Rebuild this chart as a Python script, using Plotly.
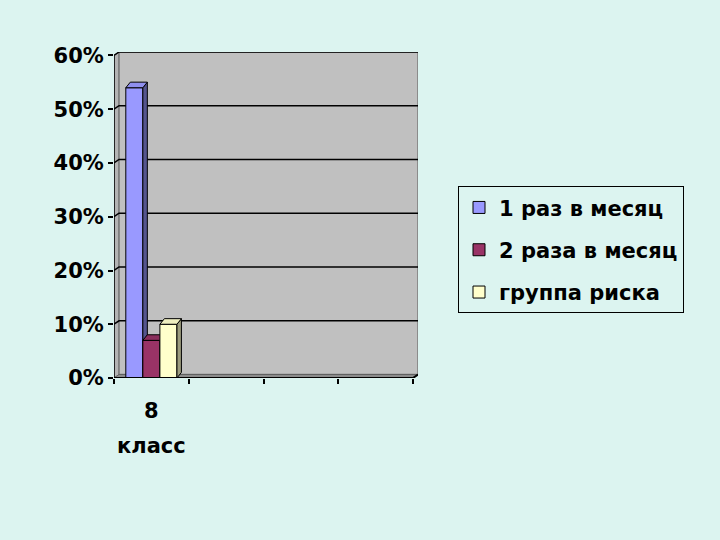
import plotly.graph_objects as go

# ---- data ----
categories = ["8 класс", "", "", ""]
cat_line1 = "8"
cat_line2 = "класс"
series_names = ["1 раз в месяц", "2 раза в месяц", "группа риска"]
series_values = [54, 7, 10]          # percent, for "8 класс"
y_ticks = [0, 10, 20, 30, 40, 50, 60]

# ---- style ----
bg = "#DCF4F0"
wall = "#C0C0C0"
front_colors = ["#9999FF", "#993366", "#FFFFCC"]
side_colors = ["#55558F", "#55203A", "#9C9C7E"]
top_colors = ["#8F8FEE", "#8A2E5C", "#EEEEC0"]
FONT = "DejaVu Sans"

n_cat = len(categories)
x0, x1 = -0.5, n_cat - 0.5
ymax = max(y_ticks)
wdx, wdy = 0.067, 0.65     # wall depth offset (x units, y units)
bdx, bdy = 0.06, 1.04      # bar depth offset
bw = 0.228                 # bar width

fig = go.Figure()

shapes = []
# side wall
shapes.append(dict(type="path", xref="x", yref="y",
                   path=f"M{x0},0 L{x0+wdx},{wdy} L{x0+wdx},{ymax+wdy} L{x0},{ymax} Z",
                   fillcolor="#B4B4B4", line=dict(color="#707070", width=1), layer="below"))
# back wall
shapes.append(dict(type="rect", xref="x", yref="y", x0=x0+wdx, x1=x1+wdx, y0=wdy, y1=ymax+wdy,
                   fillcolor=wall, line=dict(color="#7A7A7A", width=1.5), layer="below"))
# floor
shapes.append(dict(type="path", xref="x", yref="y",
                   path=f"M{x0},0 L{x0+wdx},{wdy} L{x1+wdx},{wdy} L{x1},0 Z",
                   fillcolor="#8C8C8C", line=dict(color="#606060", width=1), layer="below"))
# gridlines
for v in y_ticks[1:]:
    shapes.append(dict(type="path", xref="x", yref="y",
                       path=f"M{x0},{v} L{x0+wdx},{v+wdy} L{x1+wdx},{v+wdy}",
                       line=dict(color="black", width=1.5), layer="below"))
# front axes
shapes.append(dict(type="line", xref="x", yref="y", x0=x0, x1=x0, y0=0, y1=ymax,
                   line=dict(color="black", width=1.5)))
shapes.append(dict(type="path", xref="x", yref="y",
                   path=f"M{x0},0 L{x1},0 L{x1+wdx},{wdy}",
                   line=dict(color="black", width=2)))

nser = len(series_names)
for i, (name, v) in enumerate(zip(series_names, series_values)):
    off = -bw * nser / 2 + i * bw
    xl = 0 + off
    xr = xl + bw
    z = i + 1
    fig.add_trace(go.Bar(
        x=[0], y=[v], name=name, width=bw, offset=off,
        marker=dict(color=front_colors[i], line=dict(color="black", width=1)),
        legendgroup=name, zorder=z))
    # side face
    fig.add_trace(go.Scatter(
        x=[xr, xr + bdx, xr + bdx, xr, xr], y=[0, bdy, v + bdy, v, 0],
        fill="toself", fillcolor=side_colors[i], mode="lines",
        line=dict(color="black", width=1), showlegend=False, hoverinfo="skip", zorder=z))
    # top face
    fig.add_trace(go.Scatter(
        x=[xl, xl + bdx, xr + bdx, xr, xl], y=[v, v + bdy, v + bdy, v, v],
        fill="toself", fillcolor=top_colors[i], mode="lines",
        line=dict(color="black", width=1), showlegend=False, hoverinfo="skip", zorder=z))

lab_font = dict(size=21, color="black", family=FONT, weight="bold")
annotations = [
    dict(x=0, y=-0.101, xref="x", yref="paper", text=cat_line1, showarrow=False,
         yanchor="middle", font=lab_font),
    dict(x=0, y=-0.208, xref="x", yref="paper", text=cat_line2, showarrow=False,
         yanchor="middle", font=lab_font),
]

fig.update_layout(
    width=720, height=540,
    paper_bgcolor=bg, plot_bgcolor=bg,
    margin=dict(l=114, r=302, t=51.5, b=162, pad=0),
    barmode="overlay",
    shapes=shapes,
    annotations=annotations,
    showlegend=True,
    legend=dict(x=(458 - 114) / 304, y=(378 - 186) / 326.5, xanchor="left", yanchor="top",
                xref="paper", yref="paper",
                bgcolor=bg, bordercolor="black", borderwidth=1,
                font=dict(size=21, color="black", family=FONT, weight="bold"),
                tracegroupgap=12),
    xaxis=dict(range=[x0, x1 + wdx], showgrid=False, zeroline=False, showline=False,
               tickmode="array", tickvals=[], ticks="",
               minor=dict(tickmode="array", tickvals=[x0 + k for k in range(n_cat + 1)],
                          ticks="outside", ticklen=5, tickcolor="black", tickwidth=1.5,
                          showgrid=False)),
    yaxis=dict(range=[0, ymax + wdy], showgrid=False, zeroline=False, showline=False,
               tickmode="array", tickvals=y_ticks, ticktext=[f"{v}%" for v in y_ticks],
               ticks="outside", ticklen=5, tickcolor="black", tickwidth=1.5,
               tickfont=lab_font),
)

fig.write_html("out.html", config={"displayModeBar": False},
               post_script="document.body.style.margin='0';document.body.style.background='%s';" % bg)
